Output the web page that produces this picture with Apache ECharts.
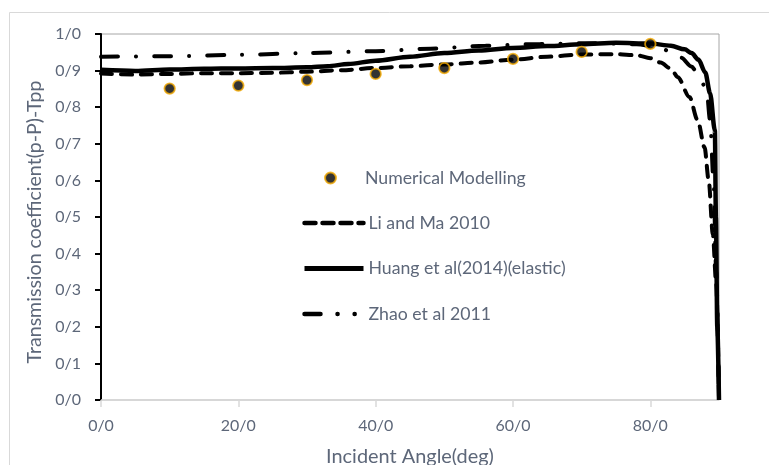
<!DOCTYPE html>
<html><head><meta charset="utf-8">
<script src="https://cdn.jsdelivr.net/npm/echarts@6/dist/echarts.min.js"></script>
<style>html,body{margin:0;padding:0;background:#fff}#c{width:769px;height:465px}</style>
</head><body><div id="c"></div>
<script>
// ---- data ----
const xTickValues = [0, 20, 40, 60, 80];
const xTickLabels = ['0/0', '20/0', '40/0', '60/0', '80/0'];
const yTickLabels = ['0/0','0/1','0/2','0/3','0/4','0/5','0/6','0/7','0/8','0/9','1/0'];

const seriesNames = ['Numerical Modelling', 'Li and Ma 2010', 'Huang et al(2014)(elastic)', 'Zhao et al 2011'];
const xTitle = 'Incident Angle(deg)';
const yTitle = 'Transmission coefficient(p-P)-Tpp';

const numAngles = [10, 20, 30, 40, 50, 60, 70, 80];
const numValues = [0.851, 0.859, 0.874, 0.891, 0.907, 0.932, 0.951, 0.973];

const liMaAngles = [0, 5, 10, 15, 20, 25, 30, 35, 40, 45, 50, 55, 60, 65, 70, 75, 78, 80, 81.5, 83, 84, 85.7, 86.9, 87.9, 88.5, 89.1, 89.6, 90];
const liMaValues = [0.892, 0.889, 0.891, 0.893, 0.893, 0.894, 0.897, 0.901, 0.907, 0.912, 0.917, 0.922, 0.930, 0.938, 0.944, 0.945, 0.942, 0.934, 0.922, 0.905, 0.882, 0.828, 0.764, 0.690, 0.600, 0.453, 0.315, 0.0];

const huangAngles = [0, 5, 10, 15, 20, 25, 30, 33, 36, 40, 45, 50, 55, 60, 65, 70, 75, 80, 83, 85, 86, 87, 88, 88.7, 89.4, 89.55, 89.75, 90];
const huangValues = [0.902, 0.899, 0.903, 0.905, 0.906, 0.907, 0.909, 0.912, 0.918, 0.927, 0.938, 0.948, 0.955, 0.962, 0.967, 0.972, 0.976, 0.974, 0.968, 0.958, 0.948, 0.930, 0.895, 0.838, 0.736, 0.500, 0.200, 0.0];

const zhaoAngles = [0, 10, 20, 30, 40, 48, 56, 64, 72, 78, 81, 83, 84.5, 86, 87.2, 88.2, 88.7, 89.2, 89.6, 90];
const zhaoValues = [0.938, 0.939, 0.943, 0.948, 0.953, 0.960, 0.968, 0.973, 0.975, 0.972, 0.965, 0.952, 0.935, 0.911, 0.880, 0.846, 0.764, 0.600, 0.350, 0.0];

const pair = (xs, ys) => xs.map((x, i) => [x, ys[i]]);

const txt = '#5d6779';
const font = 'Lato';

// font size so that a text gets a target pixel width (style only)
const mctx = document.createElement('canvas').getContext('2d');
function fitSize(text, target) {
  mctx.font = '100px ' + font;
  return 100 * target / mctx.measureText(text).width;
}
const xTitleSize = fitSize(xTitle, 168);
const yTitleSize = fitSize(yTitle, 283);
const legendSize = fitSize(seriesNames[0], 161);
const tickSize = fitSize('20/0', 35);

const chart = echarts.init(document.getElementById('c'), null, {renderer: 'canvas'});
chart.setOption({
  backgroundColor: '#fff',
  animation: false,
  textStyle: {fontFamily: font, color: txt},
  graphic: [{
    type: 'rect', silent: true, z: -10,
    shape: {x: 9.5, y: 12.5, width: 800, height: 500},
    style: {fill: 'none', stroke: '#d9d9d9', lineWidth: 1}
  }],
  grid: {left: 101, top: 34, right: 50, bottom: 65, outerBoundsMode: 'none', containLabel: false,
         show: true, borderColor: '#a6a6a6', borderWidth: 1, backgroundColor: 'transparent'},
  legend: [{
    data: [seriesNames[0]],
    orient: 'vertical', left: 319, top: 164,
    itemWidth: 59, itemHeight: 11,
    textStyle: {fontFamily: font, fontSize: legendSize, color: txt}
  }, {
    data: [
      {name: seriesNames[1], lineStyle: {type: [11, 7], width: 4.5, cap: 'round'}},
      {name: seriesNames[2], lineStyle: {type: 'solid', width: 5}},
      {name: seriesNames[3], lineStyle: {type: [16, 17, 0.1, 17, 0.1, 40], width: 4.5, cap: 'round'}}
    ],
    orient: 'vertical', left: 302, top: 214, padding: 0,
    itemWidth: 59, itemHeight: 16, itemGap: 27.5,
    itemStyle: {opacity: 0},
    textStyle: {fontFamily: font, fontSize: legendSize, color: txt}
  }],
  xAxis: {
    type: 'value', min: 0, max: 90, interval: 20,
    name: xTitle, nameLocation: 'middle', nameGap: 47,
    nameTextStyle: {fontFamily: font, fontSize: xTitleSize, color: txt},
    axisLine: {show: true, lineStyle: {color: '#d9d9d9', width: 1.5}},
    axisTick: {show: true, length: 7, lineStyle: {color: '#d9d9d9', width: 1.5}, customValues: xTickValues},
    axisLabel: {
      margin: 18, fontFamily: font, fontSize: tickSize, color: txt,
      customValues: xTickValues,
      formatter: v => xTickLabels[xTickValues.indexOf(v)] || ''
    },
    splitLine: {show: false}
  },
  yAxis: {
    type: 'value', min: 0, max: 1, interval: 0.1,
    name: yTitle, nameLocation: 'middle', nameGap: 52,
    nameTextStyle: {fontFamily: font, fontSize: yTitleSize, color: txt, padding: [0, 10, 0, 0]},
    axisLine: {show: true, lineStyle: {color: '#000', width: 2}},
    axisTick: {show: true, length: 6, lineStyle: {color: '#000', width: 2}},
    axisLabel: {
      margin: 20, fontFamily: font, fontSize: tickSize, color: txt,
      formatter: v => yTickLabels[Math.round(v * 10)]
    },
    splitLine: {show: false}
  },
  series: [
    {
      name: seriesNames[1], type: 'line', data: pair(liMaAngles, liMaValues),
      symbol: 'none', smooth: 0.3, smoothMonotone: 'x', clip: false,
      lineStyle: {color: '#000', width: 4, type: [11, 9], cap: 'round'},
      itemStyle: {color: '#000'}
    },
    {
      name: seriesNames[2], type: 'line', data: pair(huangAngles, huangValues),
      symbol: 'none', smooth: 0.3, smoothMonotone: 'x', clip: false,
      lineStyle: {color: '#000', width: 4.5, type: 'solid'},
      itemStyle: {color: '#000'}
    },
    {
      name: seriesNames[3], type: 'line', data: pair(zhaoAngles, zhaoValues),
      symbol: 'none', smooth: 0.3, smoothMonotone: 'x', clip: false,
      lineStyle: {color: '#000', width: 4, type: [17, 18, 0.1, 18], cap: 'round'},
      itemStyle: {color: '#000'}
    },
    {
      name: seriesNames[0], type: 'scatter', data: pair(numAngles, numValues),
      symbol: 'circle', symbolSize: 10.5, z: 5,
      itemStyle: {color: '#000', borderColor: '#f2a900', borderWidth: 1.8}
    }
  ]
});
</script>
</body></html>
